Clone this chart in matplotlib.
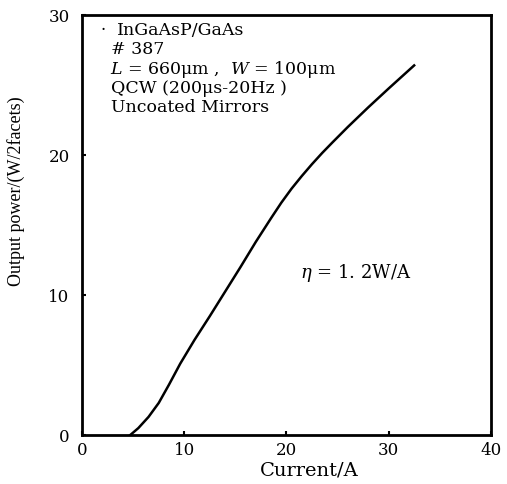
import matplotlib.pyplot as plt

plt.rcParams['font.family'] = ['DejaVu Serif']
plt.rcParams['mathtext.fontset'] = 'dejavuserif'

# L-I curve
current = [4.7, 5.5, 6.5, 7.5, 8.5, 9.6, 11.0, 12.5, 14.0, 15.5, 17.0, 18.5, 19.5, 20.5, 21.5, 22.5, 23.5, 24.5, 26.0, 28.0, 30.0, 32.5]
power = [0.0, 0.5, 1.3, 2.3, 3.6, 5.1, 6.8, 8.5, 10.25, 12.0, 13.8, 15.5, 16.6, 17.6, 18.5, 19.35, 20.15, 20.9, 22.0, 23.4, 24.75, 26.4]

info_lines = ["InGaAsP/GaAs", "# 387", "$L$ = 660\u03bcm ,  $W$ = 100\u03bcm",
              "QCW (200\u03bcs-20Hz )", "Uncoated Mirrors"]
info_x = [3.4, 2.85, 2.75, 2.85, 2.85]

fig = plt.figure(figsize=(5.07, 4.84), dpi=100)
ax = fig.add_axes([0.162, 0.101, 0.806, 0.868])

ax.plot(current, power, color='black', lw=1.8)

ax.set_xlim(0, 40)
ax.set_ylim(0, 30)
ax.set_xticks([0, 10, 20, 30, 40])
ax.set_yticks([0, 10, 20, 30])
ax.tick_params(direction='in', length=3, width=1.5, labelsize=12)
ax.tick_params(axis='y', pad=9)
ax.tick_params(axis='x', pad=5)
for s in ax.spines.values():
    s.set_linewidth(2)

ax.set_xlabel("Current/A", fontsize=14, va='top')
ax.xaxis.set_label_coords(0.555, -0.062)
ax.set_ylabel("Output power/(W/2facets)", fontsize=13, family=['Liberation Serif'])
ax.yaxis.set_label_coords(-0.139, 0.581)

ax.text(1.75, 28.9, "\u00b7", fontsize=12, va='center', ha='left')
for i, t in enumerate(info_lines):
    ax.text(info_x[i], 28.9 - i * 1.38, t, fontsize=12.5, va='center', ha='left')

ax.text(21.3, 11.6, "$\\eta$ = 1. 2W/A", fontsize=13, va='center', ha='left')

fig.savefig("out.png", dpi=100)
